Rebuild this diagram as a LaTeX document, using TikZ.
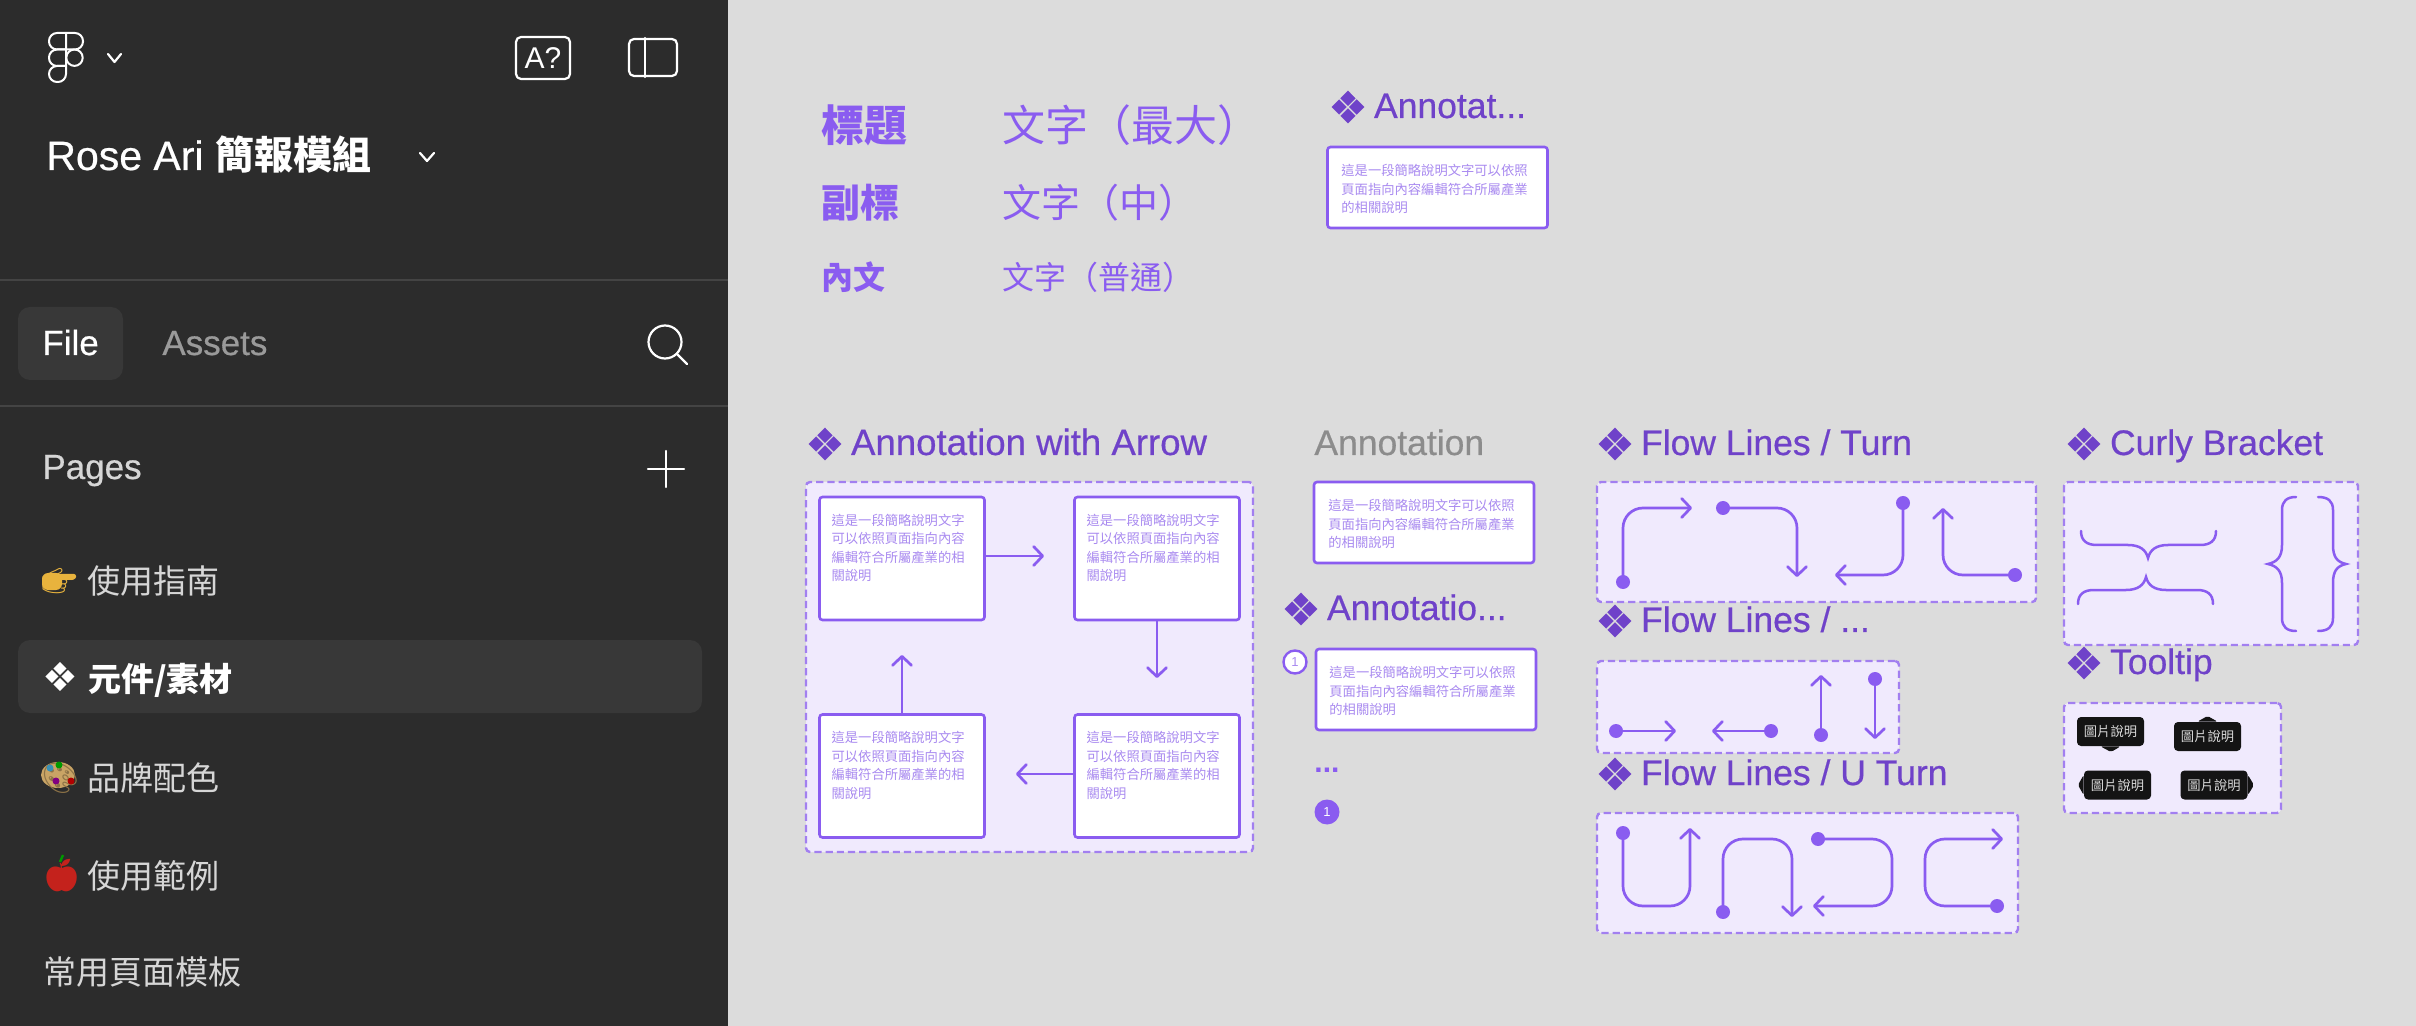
\documentclass[tikz,border=0pt]{standalone}
\usepackage{fontspec}
\setmainfont{Liberation Sans}
\newfontfamily\headfont[FakeBold=0.5]{Liberation Sans}
\newfontfamily\cjk{Noto Sans CJK TC}
\newfontfamily\dingfont{DejaVu Sans}
\newfontfamily\dingbold[FakeBold=0.8]{DejaVu Sans}
\newfontfamily\emojifont{Noto Emoji}
\usetikzlibrary{arrows.meta}
\definecolor{sidebg}{HTML}{2C2C2C}
\definecolor{sidehi}{HTML}{383838}
\definecolor{sideline}{HTML}{444444}
\definecolor{sidegrey}{HTML}{9A9A9A}
\definecolor{sidetext}{HTML}{D6D6D6}
\definecolor{canvas}{HTML}{DCDCDC}
\definecolor{purp}{HTML}{8A5CF0}
\definecolor{purpdark}{HTML}{6F42C9}
\definecolor{purplight}{HTML}{A98AF0}
\definecolor{purpdash}{HTML}{A27FF0}
\definecolor{panelbg}{HTML}{F0EAFD}
\definecolor{handyellow}{HTML}{E8B33D}
\definecolor{palettetan}{HTML}{C9A465}
\definecolor{applered}{HTML}{C4221C}
\newcommand{\headmark}{\hspace*{-1.6pt}\raisebox{-2.5pt}{\dingbold\fontsize{22}{22}\selectfont ❖}\hspace{3.2pt}}
\tikzset{
  iconline/.style={draw=white, line width=1.1pt, line cap=round, line join=round},
  sideitem/.style={anchor=west, inner sep=0pt, text=sidetext, font=\cjk\fontsize{16.5}{20}\selectfont},
  sideword/.style={anchor=base west, inner sep=0pt, font=\headfont\fontsize{17.5}{20}\selectfont},
  emojiitem/.style={anchor=west, inner sep=0pt},
  headtext/.style={anchor=base west, inner sep=0pt, text=purpdark, font=\headfont\fontsize{17.75}{20}\selectfont},
  sampletext/.style={anchor=west, inner sep=0pt, text=purp},
  notebox/.style={draw=purp, fill=white, line width=1.3pt, rounded corners=1.5pt, inner sep=0pt},
  notetext/.style={anchor=north west, inner sep=0pt, align=left, text=purplight, font=\cjk\fontsize{6.65}{9.25}\selectfont},
  dashbox/.style={draw=purpdash, fill=panelbg, line width=1.2pt, dash pattern=on 3.6pt off 2pt, rounded corners=2pt, inner sep=0pt},
  flowline/.style={draw=purp, line width=1.35pt, line cap=round, rounded corners=10pt, -{Straight Barb[length=4.5pt,width=9.5pt,round]}},
  flowdot/.style={circle, fill=purp, inner sep=0pt, minimum size=7pt},
  bracket/.style={draw=purp, line width=1.25pt, line cap=round},
  tipbox/.style={fill=black!92, rounded corners=2pt, inner sep=0pt, minimum width=33.5pt, minimum height=14.5pt, text=white!85!black, font=\cjk\fontsize{6.65}{8}\selectfont},
}
\begin{document}
\begin{tikzpicture}[x=0.5pt,y=-0.5pt,>={Straight Barb[length=4.5pt,width=9.5pt,round]}]
\useasboundingbox (0,0) rectangle (2416,1026);
\fill[canvas] (0,0) rectangle (2416,1026);
\fill[sidebg] (0,0) rectangle (728,1026);
% sidebar top row
\foreach \y in {33,49.5} \draw[iconline,line width=1pt] (66,\y) [rounded corners=4pt] -- (49,\y) -- (49,\y+16.5) [sharp corners] -- (66,\y+16.5) -- cycle;
\draw[iconline,line width=1pt] (66,33) [rounded corners=4pt] -- (83,33) -- (83,49.5) [sharp corners] -- (66,49.5);
\draw[iconline,line width=1pt] (66,66) [rounded corners=4pt] -- (49,66) -- (49,82) -- (66,82) [sharp corners] -- cycle;
\node[circle,iconline,line width=1pt,minimum size=8.2pt,inner sep=0pt] (logodot) at (74.5,57.7) {};
\draw[iconline] (108,54) -- (114.5,62) -- (121,54);
\node[iconline,rounded corners=2.5pt,minimum width=27pt,minimum height=21pt,inner sep=0pt,text=white,font=\fontsize{15}{15}\selectfont] (helpicon) at (543,58) {A?};
\node[iconline,rounded corners=2.5pt,minimum width=24pt,minimum height=18.5pt,inner sep=0pt] (panelicon) at (653,57.5) {};
\draw[iconline] ([xshift=8.5pt]panelicon.north west) -- ([xshift=8.5pt]panelicon.south west);
\node[sideword,text=white,font=\headfont\fontsize{20.5}{20}\selectfont] (title) at (46,170) {Rose Ari {\cjk\bfseries\fontsize{19.5}{20}\selectfont 簡報模組}};
\draw[iconline] (420,153) -- (427,161) -- (434,153);
% tabs
\draw[sideline,line width=1pt] (0,280.5) -- (728,280.5);
\draw[sideline,line width=1pt] (0,406) -- (728,406);
\fill[sidehi,rounded corners=6pt] (18,307) rectangle (123,380);
\node[sideword,text=white] (filetab) at (42,355) {File};
\node[sideword,text=sidegrey] (assetstab) at (162,355) {Assets};
\node[circle,iconline,minimum size=16.5pt,inner sep=0pt] (search) at (665,342) {};
\coordinate (searchend) at (687,364);
\draw[iconline] (search) -- (searchend);
\node[sideword,text=sidetext] (pages) at (42,479) {Pages};
\coordinate (plusa) at (648,469); \coordinate (plusb) at (684,469);
\coordinate (plusc) at (666,451); \coordinate (plusd) at (666,487);
\draw[iconline] (plusa) -- (plusb); \draw[iconline] (plusc) -- (plusd);
% pages list
\fill[sidehi,rounded corners=6pt] (18,640) rectangle (702,713);
\fill[handyellow,rounded corners=3pt] (42,573) rectangle (62,590);
\fill[handyellow,rounded corners=1pt] (56,574) rectangle (76,579);
\fill[palettetan] (58,775) ellipse [x radius=17, y radius=13];
\foreach \nm/\em/\sz/\col/\txt/\y in {guide/👉/13.8/handyellow/使用指南/581,brand/🎨/15/palettetan!70!black/品牌配色/778,usage/🍎/16/applered/使用範例/876}{
  \node[emojiitem,text=\col,font=\emojifont\fontsize{\sz}{20}\selectfont] (\nm mark) at (41,\y) {\em};
  \node[sideitem] (\nm) at (87,\y) {\txt};
}
\foreach \x/\y/\col in {50/768/cyan!70!black,59/765/green!60!black,56/781/violet,71/781/red!70!black}
  \fill[\col] (\x,\y) circle [radius=3.5];
\draw[green!60!black,line width=1.2pt] (60,862) -- (63,855);
\node[sideitem,text=white,font=\cjk\bfseries\fontsize{16.5}{20}\selectfont] (parts) at (42,680) {{\dingfont\fontsize{20}{20}\selectfont ❖}\hspace{5pt}元件/素材};
\node[sideitem] (templates) at (43,972) {常用頁面模板};
% type samples
\node[sampletext,font=\cjk\bfseries\fontsize{21.5}{24}\selectfont] (titlesample) at (821,125) {標題};
\node[sampletext,font=\cjk\bfseries\fontsize{19.5}{24}\selectfont] (subsample) at (821,203) {副標};
\node[sampletext,font=\cjk\bfseries\fontsize{16}{24}\selectfont] (bodysample) at (821,277) {內文};
\node[sampletext,font=\cjk\fontsize{21.5}{24}\selectfont] (titleword) at (1002,125) {文字（最大）};
\node[sampletext,font=\cjk\fontsize{19.5}{24}\selectfont] (subword) at (1002,203) {文字（中）};
\node[sampletext,font=\cjk\fontsize{16}{24}\selectfont] (bodyword) at (1002,277) {文字（普通）};
% headings
\node[headtext] (headtop) at (1331,118) {\headmark Annotat...};
\node[headtext,font=\headfont\fontsize{18.3}{20}\selectfont] (headarrow) at (808,455) {\headmark Annotation with Arrow};
\node[headtext,text=gray!90] (headplain) at (1314,455) {Annotation};
\node[headtext] (headnum) at (1284,620) {\headmark Annotatio...};
\node[headtext] (headturn) at (1598,455) {\headmark Flow Lines / Turn};
\node[headtext] (headstraight) at (1598,632) {\headmark Flow Lines / ...};
\node[headtext] (headu) at (1598,785) {\headmark Flow Lines / U Turn};
\node[headtext] (headcurly) at (2067,455) {\headmark Curly Bracket};
\node[headtext] (headtip) at (2067,674) {\headmark Tooltip};
% wide notes
\foreach \nm/\x/\y/\ax/\ay in {topnote/1437.5/187.5/1341/164,plainnote/1424/522.5/1328/499,numnote/1426/689.5/1329/666}{
  \node[notebox,minimum width=110pt,minimum height=40.5pt] (\nm) at (\x,\y) {};
  \node[notetext] (\nm text) at (\ax,\ay) {這是一段簡略說明文字可以依照\\頁面指向內容編輯符合所屬產業\\的相關說明};
}
\node[circle,draw=purp,fill=white,line width=1.2pt,minimum size=11.5pt,inner sep=0pt,text=purplight,font=\fontsize{6.5}{7}\selectfont] (numhollow) at (1295,662) {1};
\node[headtext,text=purp,font=\bfseries\fontsize{15}{16}\selectfont] (numdots) at (1314,772) {...};
\node[circle,fill=purp,minimum size=12.5pt,inner sep=0pt,text=white,font=\fontsize{6.5}{7}\selectfont] (numfull) at (1327,812) {1};
% annotation with arrow
\node[dashbox,minimum width=223.5pt,minimum height=185pt] (arrowpanel) at (1029.5,667) {};
\foreach \nm/\x/\y in {tl/902/558.5,tr/1157/558.5,bl/902/776,br/1157/776}{
  \node[notebox,minimum width=82.5pt,minimum height=61.5pt] (\nm) at (\x,\y) {};
  \node[notetext] (\nm text) at ([shift={(13,18)}]\nm.north west) {這是一段簡略說明文字\\可以依照頁面指向內容\\編輯符合所屬產業的相\\關說明};
}
\coordinate (tlend) at (1044,556);
\coordinate (trend) at (1157,678);
\coordinate (brend) at (1016,774);
\coordinate (blend) at (902,655);
\draw[flowline] (tl.east |- tlend) -- (tlend);
\draw[flowline] (tr.south) -- (trend);
\draw[flowline] (br.west |- brend) -- (brend);
\draw[flowline] (bl.north) -- (blend);
% flow lines / turn
\node[dashbox,minimum width=219.5pt,minimum height=60pt] (turnpanel) at (1816.5,542) {};
\node[flowdot] (ta) at (1623,582) {};
\node[flowdot] (tb) at (1723,508) {};
\node[flowdot] (tc) at (1903,503) {};
\node[flowdot] (td) at (2015,575) {};
\coordinate (taend) at (1692,508);
\coordinate (tbend) at (1797,577);
\coordinate (tcend) at (1835,575);
\coordinate (tdend) at (1943,508);
\draw[flowline] (ta.center) |- (taend);
\draw[flowline] (tb.center) -| (tbend);
\draw[flowline] (tc.center) |- (tcend);
\draw[flowline] (td.center) -| (tdend);
% flow lines / straight
\node[dashbox,minimum width=151pt,minimum height=46pt] (straightpanel) at (1748,707) {};
\node[flowdot] (sa) at (1616,731) {};
\node[flowdot] (sb) at (1771,731) {};
\node[flowdot] (sc) at (1821,735) {};
\node[flowdot] (sd) at (1875,679) {};
\coordinate (saend) at (1676,731);
\coordinate (sbend) at (1712,731);
\coordinate (scend) at (1821,675);
\coordinate (sdend) at (1875,739);
\draw[flowline] (sa.center) -- (saend);
\draw[flowline] (sb.center) -- (sbend);
\draw[flowline] (sc.center) -- (scend);
\draw[flowline] (sd.center) -- (sdend);
% flow lines / u turn
\node[dashbox,minimum width=210.5pt,minimum height=60pt] (upanel) at (1807.5,873) {};
\node[flowdot] (ua) at (1623,833) {};
\node[flowdot] (ub) at (1723,912) {};
\node[flowdot] (uc) at (1818,839) {};
\node[flowdot] (ud) at (1997,906) {};
\coordinate (uaend) at (1690,828);
\coordinate (ubend) at (1792,917);
\coordinate (ucend) at (1813,906);
\coordinate (udend) at (2003,839);
\draw[flowline] (ua.center) -- (1623,906) -- (1690,906) -- (uaend);
\draw[flowline] (ub.center) -- (1723,839) -- (1792,839) -- (ubend);
\draw[flowline] (uc.center) -- (1892,839) -- (1892,906) -- (ucend);
\draw[flowline] (ud.center) -- (1925,906) -- (1925,839) -- (udend);
% curly brackets
\node[dashbox,minimum width=147pt,minimum height=81.5pt] (curlypanel) at (2211,563.5) {};
\draw[bracket] (2081,531) .. controls (2081,541) and (2087,545) .. (2097,545) -- (2128,545) .. controls (2140,545) and (2146,550) .. (2148,558) .. controls (2150,550) and (2156,545) .. (2168,545) -- (2200,545) .. controls (2210,545) and (2216,541) .. (2216,531);
\draw[bracket] (2078,604) .. controls (2078,594) and (2084,590) .. (2094,590) -- (2126,590) .. controls (2138,590) and (2144,585) .. (2146,577) .. controls (2148,585) and (2154,590) .. (2166,590) -- (2197,590) .. controls (2207,590) and (2213,594) .. (2213,604);
\draw[bracket] (2296,497) .. controls (2287,497) and (2282,501) .. (2282,510) -- (2282,545) .. controls (2282,557) and (2277,562) .. (2268,564) .. controls (2277,566) and (2282,571) .. (2282,583) -- (2282,618) .. controls (2282,627) and (2287,631) .. (2296,631);
\draw[bracket] (2318,497) .. controls (2328,497) and (2333,501) .. (2333,510) -- (2333,545) .. controls (2333,557) and (2337,562) .. (2346,564) .. controls (2337,566) and (2333,571) .. (2333,583) -- (2333,618) .. controls (2333,627) and (2328,631) .. (2318,631);
% tooltips
\node[dashbox,minimum width=108.5pt,minimum height=55pt] (tippanel) at (2172.5,758) {};
\foreach \nm/\x/\y in {tipa/2110.5/731.5,tipb/2207.5/736.5,tipc/2117.5/785,tipd/2214/785}
  \node[tipbox] (\nm) at (\x,\y) {圖片說明};
\fill[black!92,rounded corners=1pt] ([xshift=-5pt]tipa.south) -- (2111,752) -- ([xshift=5pt]tipa.south) -- cycle;
\fill[black!92,rounded corners=1pt] ([xshift=-5pt]tipb.north) -- (2207.5,716) -- ([xshift=5pt]tipb.north) -- cycle;
\fill[black!92,rounded corners=1pt] ([yshift=-5pt]tipc.west) -- (2078,785) -- ([yshift=5pt]tipc.west) -- cycle;
\fill[black!92,rounded corners=1pt] ([yshift=-5pt]tipd.east) -- (2254,785) -- ([yshift=5pt]tipd.east) -- cycle;
\end{tikzpicture}
\end{document}
